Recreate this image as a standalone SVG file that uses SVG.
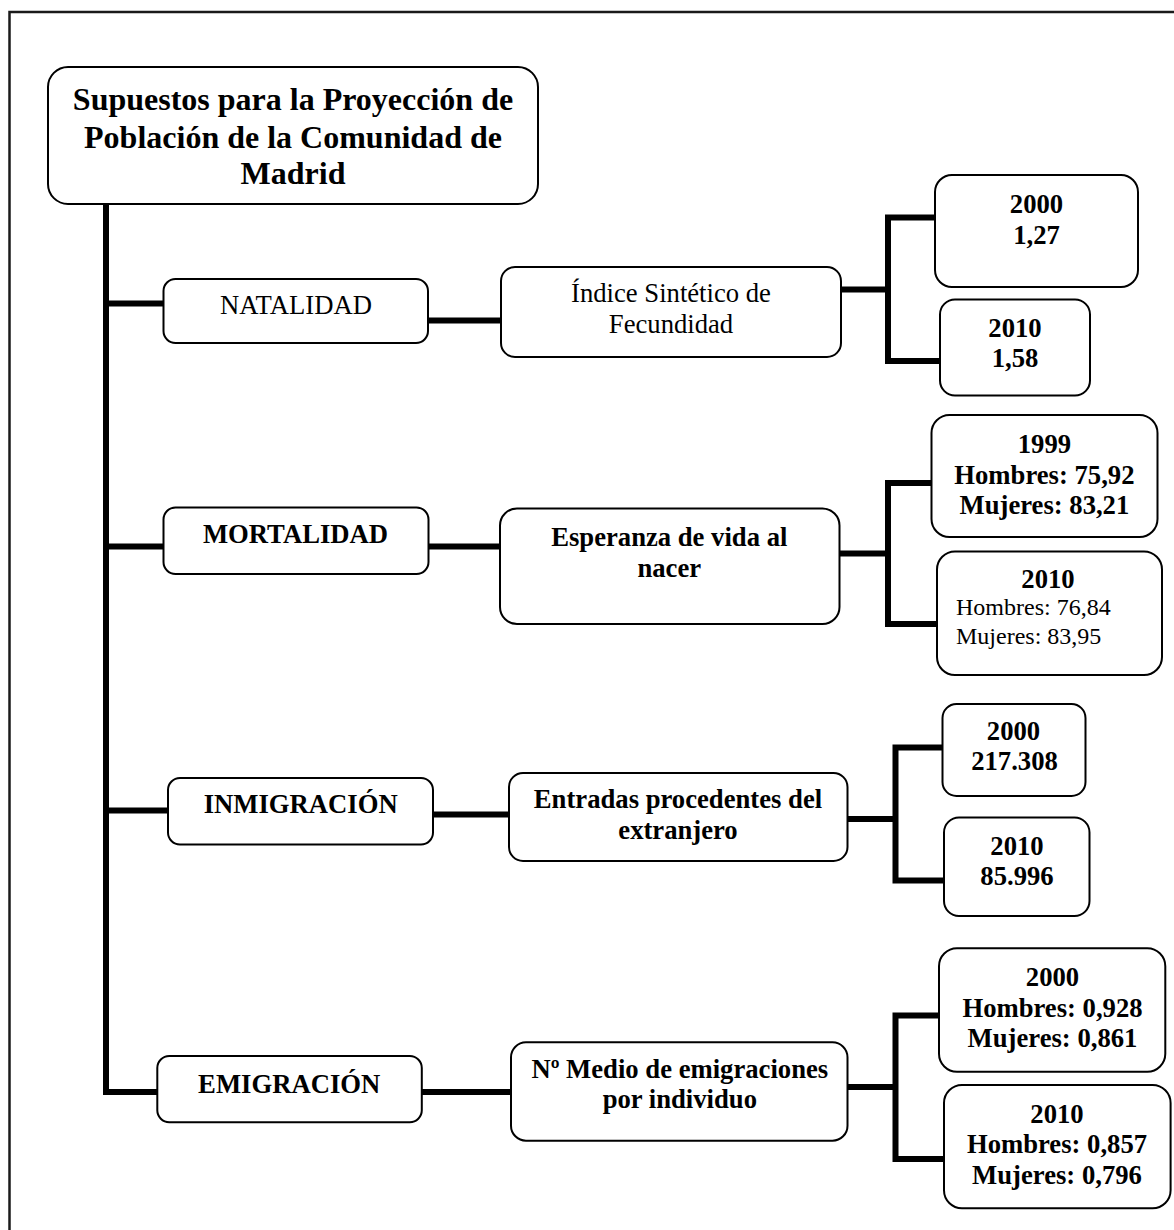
<svg xmlns="http://www.w3.org/2000/svg" width="1174" height="1230" viewBox="0 0 1174 1230">
  <style>
    .box { fill: #ffffff; stroke: #000000; stroke-width: 2; }
    .wire { fill: none; stroke: #000000; stroke-width: 6; stroke-linejoin: miter; stroke-linecap: butt; }
    .frame { fill: none; stroke: #1a1a1a; stroke-width: 2.5; }
    text { font-family: "Liberation Serif", "Times New Roman", serif; fill: #000000; }
    .t { font-size: 32px; font-weight: bold; text-anchor: middle; }
    .b { font-size: 26.67px; font-weight: bold; text-anchor: middle; }
    .r { font-size: 26.67px; text-anchor: middle; }
    .s { font-size: 24px; }
  </style>

  <!-- page frame -->
  <path class="frame" d="M9.5,1230 V12 H1174"/>

  <!-- connectors -->
  <g id="connectors">
    <!-- trunk and branches to the four categories -->
    <path class="wire" d="M106,204 V1092 H157"/>
    <path class="wire" d="M106,303.5 H164"/>
    <path class="wire" d="M106,546.5 H164"/>
    <path class="wire" d="M106,810.5 H168"/>
    <!-- category to indicator -->
    <path class="wire" d="M428,320.5 H501"/>
    <path class="wire" d="M428,546.5 H500"/>
    <path class="wire" d="M433,814.5 H509"/>
    <path class="wire" d="M421,1092 H511"/>
    <!-- indicator to values -->
    <path class="wire" d="M841,289.5 H888"/>
    <path class="wire" d="M935,217.5 H888 V361 H940"/>
    <path class="wire" d="M839,553.5 H888"/>
    <path class="wire" d="M932,483 H888 V624 H937"/>
    <path class="wire" d="M847,819 H895.5"/>
    <path class="wire" d="M943,747.5 H895.5 V880.5 H944"/>
    <path class="wire" d="M847,1087 H895.5"/>
    <path class="wire" d="M939,1015.5 H895.5 V1159 H944"/>
  </g>

  <!-- root -->
  <g id="root">
    <rect class="box" x="48" y="67" width="490" height="137" rx="20"/>
    <text class="t" x="293" y="110">Supuestos para la Proyección de</text>
    <text class="t" x="293" y="147.5">Población de la Comunidad de</text>
    <text class="t" x="293" y="184">Madrid</text>
  </g>

  <!-- NATALIDAD branch -->
  <g id="natalidad">
    <rect class="box" x="163.5" y="279" width="264.5" height="64" rx="12"/>
    <text class="r" x="296" y="314">NATALIDAD</text>
  </g>
  <g id="isf">
    <rect class="box" x="501" y="267" width="340" height="90" rx="14"/>
    <text class="r" x="671" y="301.5">Índice Sintético de</text>
    <text class="r" x="671" y="333">Fecundidad</text>
  </g>
  <g id="isf-2000">
    <rect class="box" x="935" y="175" width="203" height="112" rx="17"/>
    <text class="b" x="1036.5" y="213.3">2000</text>
    <text class="b" x="1036.5" y="244">1,27</text>
  </g>
  <g id="isf-2010">
    <rect class="box" x="940" y="299.5" width="150" height="96" rx="15"/>
    <text class="b" x="1015" y="336.5">2010</text>
    <text class="b" x="1015" y="366.7">1,58</text>
  </g>

  <!-- MORTALIDAD branch -->
  <g id="mortalidad">
    <rect class="box" x="163.5" y="507.5" width="265" height="66.5" rx="12"/>
    <text class="b" x="295.5" y="543.3">MORTALIDAD</text>
  </g>
  <g id="esperanza">
    <rect class="box" x="500" y="508.5" width="339.5" height="115.5" rx="17"/>
    <text class="b" x="669.3" y="546">Esperanza de vida al</text>
    <text class="b" x="669.3" y="576.7">nacer</text>
  </g>
  <g id="esperanza-1999">
    <rect class="box" x="931.5" y="415" width="226" height="122" rx="18"/>
    <text class="b" x="1044.4" y="452.7">1999</text>
    <text class="b" x="1044.4" y="483.5">Hombres: 75,92</text>
    <text class="b" x="1044.4" y="514">Mujeres: 83,21</text>
  </g>
  <g id="esperanza-2010">
    <rect class="box" x="937" y="551.5" width="225" height="123.5" rx="18"/>
    <text class="b" x="1048" y="588.3">2010</text>
    <text class="s" x="956" y="615">Hombres: 76,84</text>
    <text class="s" x="956" y="644.3">Mujeres: 83,95</text>
  </g>

  <!-- INMIGRACIÓN branch -->
  <g id="inmigracion">
    <rect class="box" x="168" y="778" width="265" height="66.5" rx="12"/>
    <text class="b" x="300.7" y="813.3">INMIGRACIÓN</text>
  </g>
  <g id="entradas">
    <rect class="box" x="509" y="773" width="338.5" height="88" rx="14"/>
    <text class="b" x="678" y="808.3">Entradas procedentes del</text>
    <text class="b" x="678" y="839.3">extranjero</text>
  </g>
  <g id="entradas-2000">
    <rect class="box" x="942.5" y="704" width="143" height="92" rx="14"/>
    <text class="b" x="1013.5" y="739.5">2000</text>
    <text class="b" x="1014.5" y="769.5">217.308</text>
  </g>
  <g id="entradas-2010">
    <rect class="box" x="944" y="817.5" width="145.5" height="98.5" rx="15"/>
    <text class="b" x="1017" y="855">2010</text>
    <text class="b" x="1017" y="885">85.996</text>
  </g>

  <!-- EMIGRACIÓN branch -->
  <g id="emigracion">
    <rect class="box" x="157.3" y="1056" width="264.5" height="66.3" rx="12"/>
    <text class="b" x="289.2" y="1093.3">EMIGRACIÓN</text>
  </g>
  <g id="emigraciones">
    <rect class="box" x="511" y="1042.3" width="336.5" height="98.4" rx="15"/>
    <text class="b" x="679.8" y="1077.7">Nº Medio de emigraciones</text>
    <text class="b" x="679.8" y="1108.3">por individuo</text>
  </g>
  <g id="emigraciones-2000">
    <rect class="box" x="939" y="948.3" width="226.3" height="123.4" rx="18"/>
    <text class="b" x="1052.5" y="985.7">2000</text>
    <text class="b" x="1052.5" y="1016.7">Hombres: 0,928</text>
    <text class="b" x="1052.5" y="1046.7">Mujeres: 0,861</text>
  </g>
  <g id="emigraciones-2010">
    <rect class="box" x="944" y="1085" width="226.6" height="123.3" rx="18"/>
    <text class="b" x="1057" y="1123.3">2010</text>
    <text class="b" x="1057" y="1153.3">Hombres: 0,857</text>
    <text class="b" x="1057" y="1184">Mujeres: 0,796</text>
  </g>
</svg>
